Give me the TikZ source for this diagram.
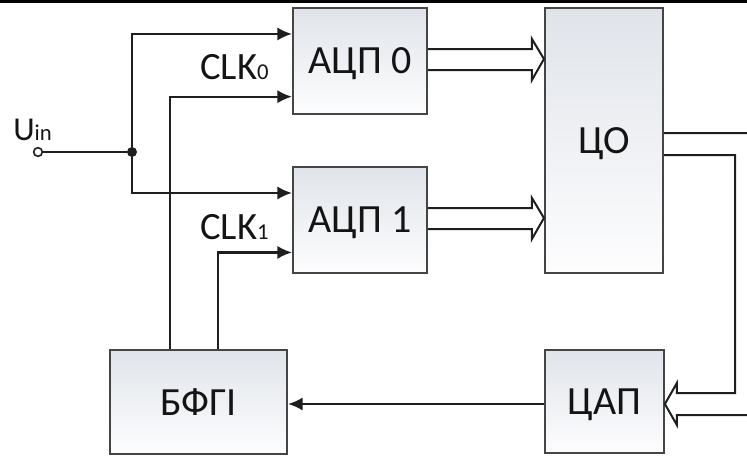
\documentclass[tikz,border=0pt]{standalone}
\usepackage{fontspec}
\setmainfont{Carlito}
\usetikzlibrary{arrows.meta,calc,positioning}
\definecolor{BoxEdge}{HTML}{454545}
\definecolor{BoxTop}{HTML}{E0E4EA}
\definecolor{BoxBot}{HTML}{FDFDFE}
\definecolor{WireInk}{HTML}{1E1E1E}
\newcommand{\smallidx}[1]{{\fontsize{17}{17}\selectfont #1}}

\begin{document}
\begin{tikzpicture}[x=0.75pt,y=-0.75pt,
      >={Latex[length=11pt,width=10pt]},
      sig/.style={->,line width=1.6pt,draw=WireInk},
      wire/.style={line width=1.6pt,draw=WireInk},
      bus/.style={line width=1.5pt,draw=WireInk,line join=miter},
      block/.style={draw=BoxEdge,line width=1.6pt,top color=BoxTop,bottom color=BoxBot,
        inner sep=0pt,text depth=0pt,font=\fontsize{30}{30}\selectfont,text=black!92},
      lbl/.style={font=\fontsize{29}{29}\selectfont,inner sep=0pt,text=black!92}
    ]
    \clip (0,0) rectangle (747,457);
    \fill[black] (0,0) rectangle (747,2.5);
    % blocks
    \node[block,minimum width=100.5pt,minimum height=79.5pt] (adc0) at (360,61) {АЦП 0};
    \node[block,minimum width=100.5pt,minimum height=79.5pt] (adc1) at (360,220) {АЦП 1};
    \node[block,minimum width=88.5pt,minimum height=198.75pt] (co) at (604,140.5) {ЦО};
    \node[block,minimum width=89pt,minimum height=77pt] (dac) at (604.5,401.5) {ЦАП};
    \node[block,minimum width=132.75pt,minimum height=78pt] (bfg) at (198.5,402) {БФГІ};

    % input
    \node[circle,draw=WireInk,line width=1.2pt,fill=white,inner sep=0pt,minimum size=6.5pt] (in) at (38,152) {};
    \node[anchor=base west,inner sep=0pt,text=black!92] (inlbl) at (13,140)
      {\fontsize{25}{25}\selectfont U\fontsize{17}{17}\selectfont in};
    \node[circle,fill=WireInk,inner sep=0pt,minimum size=7.5pt] (junc) at (132,152) {};
    \draw[wire] (in) -- (junc);
    \draw[sig] (junc.center) |- ($(adc0.north west)!0.25!(adc0.south west)$);
    \draw[sig] (junc.center) |- ($(adc1.north west)!0.25!(adc1.south west)$);

    % clocks
    \draw[sig] ($(bfg.north west)!0.34!(bfg.north east)$) |- ($(adc0.north west)!0.83!(adc0.south west)$);
    \draw[sig] ($(bfg.north west)!0.61!(bfg.north east)$) |- ($(adc1.north west)!0.8!(adc1.south west)$);
    \node[lbl,anchor=base east] (clk0) at (269,79) {CLK\smallidx{0}};
    \node[lbl,anchor=base east] (clk1) at (269,239) {CLK\smallidx{1}};

    % data buses
    \foreach \src in {adc0,adc1}{
      \draw[bus] ($(\src.east)+(0,-12)$) -- ($(co.west |- \src.east)+(-12,-12)$) -- ++(0,-10)
        -- ($(co.west |- \src.east)+(0,-2)$) -- ($(co.west |- \src.east)+(-12,19)$) -- ++(0,-10)
        -- ($(\src.east)+(0,9)$);
    }
    \coordinate (coout) at ($(co.east)+(0,3.5)$);
    \coordinate (dacin) at ($(dac.east)+(0,2.5)$);
    \draw[bus] ($(coout)+(0,11)$) -- (735,155) -- (735,393) -- ($(dacin)+(12,-11)$)
      -- ++(0,-10) -- (dacin) -- ($(dacin)+(12,21)$) -- ++(0,-10) -- (760,415) -- (760,133)
      -- ($(coout)+(0,-11)$);

    % feedback
    \draw[sig] (dac.west |- dacin) -- (bfg.east |- dacin);
  \end{tikzpicture}
\end{document}
